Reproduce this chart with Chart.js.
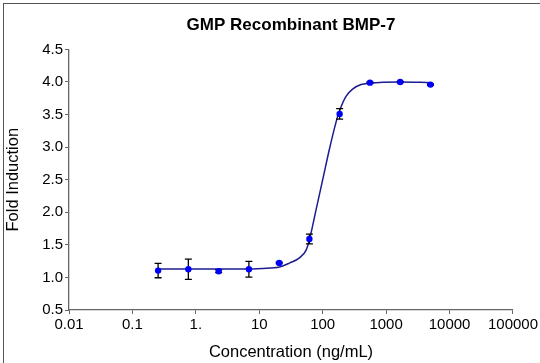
<!DOCTYPE html>
<html>
<head>
<meta charset="utf-8">
<script src="https://cdn.jsdelivr.net/npm/chart.js@4/dist/chart.umd.min.js"></script>
<style>
    body { margin: 0; background: #fff; }
    #wrap { position: relative; width: 540px; height: 363px; }
    #frame { position: absolute; left: 3px; top: 3px; right: -2px; bottom: -2px;
             border-left: 1.5px solid #555; border-top: 1.5px solid #555; pointer-events: none; }
</style>
</head>
<body>
<div id="wrap">
    <canvas id="chart-bmp7"></canvas>
    <div id="frame"></div>
</div>
<script>
    // measured points (ng/mL) and fold induction, with +/- error
    var concentration = [0.254, 0.762, 2.29, 6.86, 20.6, 61.7, 185, 556, 1667, 5000];
    var foldInduction = [1.105, 1.126, 1.095, 1.126, 1.223, 1.59, 3.51, 3.99, 4.00, 3.96];
    var foldError     = [0.11, 0.155, 0.02, 0.12, 0.01, 0.075, 0.08, 0.01, 0.01, 0.01];

    // fitted curve
    var curveX = [0.254, 1.15, 4.9, 11.3, 20.8, 29.9, 43, 54.8, 61.8, 78.7, 100, 127, 162, 183, 233, 296, 402, 543, 1607, 5058];
    var curveY = [1.13, 1.13, 1.13, 1.138, 1.16, 1.22, 1.30, 1.42, 1.58, 2.04, 2.50, 2.96, 3.38, 3.55, 3.78, 3.89, 3.96, 3.98, 4.00, 3.99];

    var xTickValues = [0.01, 0.1, 1, 10, 100, 1000, 10000, 100000];
    var xTickLabels = ["0.01", "0.1", "1.", "10", "100", "1000", "10000", "100000"];

    var axisColor = "#666";
    var fontFamily = "Arial, 'Liberation Sans', sans-serif";

    var errorBars = {
        id: 'errorBars',
        afterDatasetDraw: function(chart, args) {
            if (args.index !== 0) return;
            var ctx = chart.ctx, xs = chart.scales.x, ys = chart.scales.y;
            ctx.save();
            ctx.strokeStyle = "#000";
            ctx.lineWidth = 1.3;
            for (var i = 0; i < concentration.length; i++) {
                var px = xs.getPixelForValue(concentration[i]);
                var top = ys.getPixelForValue(foldInduction[i] + foldError[i]);
                var bot = ys.getPixelForValue(foldInduction[i] - foldError[i]);
                ctx.beginPath();
                ctx.moveTo(px, top); ctx.lineTo(px, bot);
                ctx.moveTo(px - 3.5, top); ctx.lineTo(px + 3.5, top);
                ctx.moveTo(px - 3.5, bot); ctx.lineTo(px + 3.5, bot);
                ctx.stroke();
            }
            ctx.restore();
        }
    };

    var chartBmp = new Chart(document.getElementById("chart-bmp7"), {
        type: 'scatter',
        data: {
            datasets: [{
                label: "Fit",
                data: curveX.map(function(x, i) { return {x: x, y: curveY[i]}; }),
                showLine: true,
                borderColor: "#1c1c8f",
                borderWidth: 1.5,
                pointRadius: 0,
                cubicInterpolationMode: 'monotone',
                order: 1
            }, {
                label: "BMP-7",
                data: concentration.map(function(x, i) { return {x: x, y: foldInduction[i]}; }),
                backgroundColor: "#0000ff",
                borderWidth: 0,
                pointRadius: 3.2,
                order: 0
            }]
        },
        options: {
            responsive: true,
            maintainAspectRatio: false,
            animation: false,
            layout: { padding: { left: 0, right: 26, top: 0, bottom: 0 } },
            plugins: {
                legend: { display: false },
                tooltip: { enabled: false },
                title: {
                    display: true,
                    text: "GMP Recombinant BMP-7",
                    color: "#000",
                    fullSize: false,
                    font: { family: fontFamily, size: 17, weight: 'bold' },
                    padding: { top: 15, bottom: 14 }
                }
            },
            scales: {
                x: {
                    type: 'logarithmic',
                    min: 0.01,
                    max: 100000,
                    afterBuildTicks: function(scale) {
                        scale.ticks = xTickValues.map(function(v) { return {value: v}; });
                    },
                    afterFit: function(scale) { scale.height = 53; },
                    ticks: {
                        autoSkip: false,
                        maxRotation: 0,
                        color: "#000",
                        padding: 2,
                        font: { family: fontFamily, size: 15 },
                        callback: function(v, i) { return xTickLabels[i]; }
                    },
                    grid: { drawOnChartArea: false, drawTicks: true, tickLength: 4, color: axisColor },
                    border: { display: true, color: axisColor, width: 1.3 },
                    title: {
                        display: true,
                        text: "Concentration (ng/mL)",
                        color: "#000",
                        font: { family: fontFamily, size: 16.5 },
                        padding: { top: 0, bottom: 1 }
                    }
                },
                y: {
                    min: 0.5,
                    max: 4.5,
                    afterFit: function(scale) { scale.width = 69; },
                    ticks: {
                        stepSize: 0.5,
                        color: "#000",
                        padding: 2,
                        font: { family: fontFamily, size: 15 },
                        callback: function(v) { return v.toFixed(1); }
                    },
                    grid: { drawOnChartArea: false, drawTicks: true, tickLength: 4, color: axisColor },
                    border: { display: true, color: axisColor, width: 1.3 },
                    title: {
                        display: true,
                        text: "Fold Induction",
                        color: "#000",
                        font: { family: fontFamily, size: 16.5 },
                        padding: { top: 4, bottom: 0 }
                    }
                }
            }
        },
        plugins: [errorBars]
    });
</script>
</body>
</html>
